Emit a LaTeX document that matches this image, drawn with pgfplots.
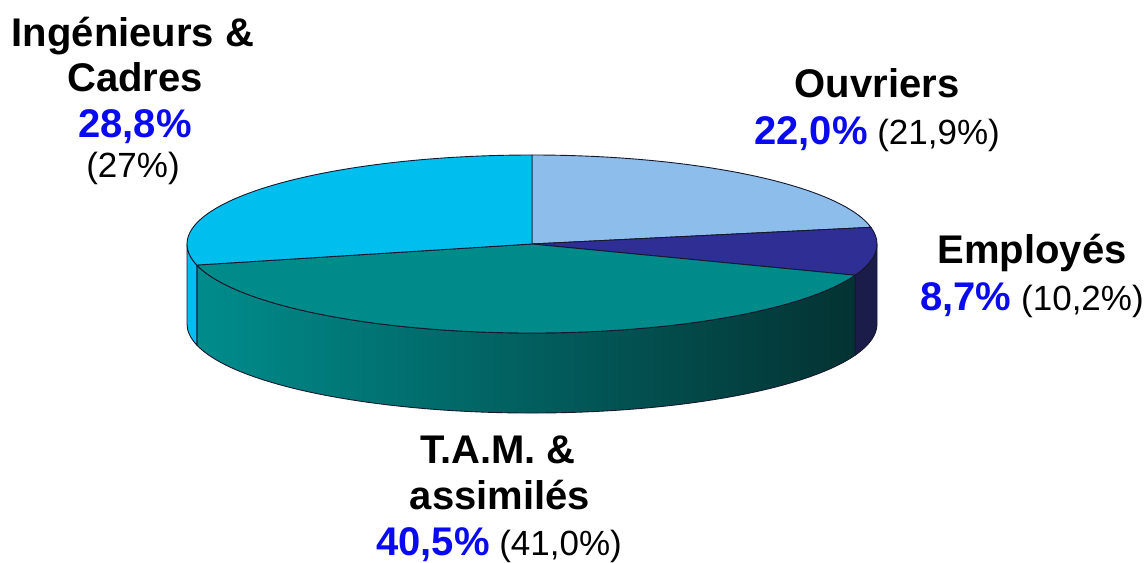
\documentclass[border=0pt]{standalone}
\usepackage{pgfplots}
\pgfplotsset{compat=1.18}
\usepackage{fontspec}
\setmainfont{Liberation Sans}
\definecolor{cOuv}{RGB}{141,189,235}
\definecolor{cEmp}{RGB}{46,46,148}
\definecolor{cEmpS}{RGB}{28,28,74}
\definecolor{cTam}{RGB}{0,139,139}
\definecolor{cTamL}{RGB}{0,140,140}
\definecolor{cTamR}{RGB}{4,50,50}
\definecolor{cIng}{RGB}{0,190,238}
\definecolor{cLine}{RGB}{20,25,45}
\definecolor{cPct}{RGB}{10,10,240}
% shares (%), clockwise from 12 o'clock
\def\vOuv{22.0}
\def\vEmp{8.7}
\def\vTam{40.5}
\def\vIng{28.8}
\pgfmathsetmacro\aA{90}
\pgfmathsetmacro\aB{\aA-3.6*\vOuv}
\pgfmathsetmacro\aC{\aB-3.6*\vEmp}
\pgfmathsetmacro\aD{\aC-3.6*\vTam}
\pgfmathsetmacro\aE{\aD-3.6*\vIng}
\def\cx{532}\def\cy{318}\def\rx{345}\def\ry{89}\def\dep{80}
\newcommand\lbig[1]{{\fontsize{40}{46}\selectfont\bfseries #1}}
\newcommand\lsm[1]{{\fontsize{35}{46}\selectfont #1}}
\begin{document}
\begin{tikzpicture}
\begin{axis}[width=1147pt,height=562pt,scale only axis,
  xmin=0,xmax=1147,ymin=0,ymax=562,hide axis,clip=false]
\path (axis cs:0,0) rectangle (axis cs:1147,562);
% side walls
\filldraw[fill=cEmpS,draw=cLine,line width=0.9pt]
  (axis cs:{\cx+\rx},\cy) arc[start angle=0,end angle=\aC,x radius=\rx pt,y radius=\ry pt]
  -- ++(0,-\dep pt) arc[start angle=\aC,end angle=0,x radius=\rx pt,y radius=\ry pt] -- cycle;
\shade[left color=cTamL,right color=cTamR]
  (axis cs:{\cx+\rx*cos(\aC)},{\cy+\ry*sin(\aC)}) arc[start angle=\aC,end angle=\aD,x radius=\rx pt,y radius=\ry pt]
  -- ++(0,-\dep pt) arc[start angle=\aD,end angle=\aC,x radius=\rx pt,y radius=\ry pt] -- cycle;
\draw[cLine,line width=0.9pt]
  (axis cs:{\cx+\rx*cos(\aC)},{\cy+\ry*sin(\aC)}) arc[start angle=\aC,end angle=\aD,x radius=\rx pt,y radius=\ry pt]
  -- ++(0,-\dep pt) arc[start angle=\aD,end angle=\aC,x radius=\rx pt,y radius=\ry pt] -- cycle;
\filldraw[fill=cIng,draw=cLine,line width=0.9pt]
  (axis cs:{\cx+\rx*cos(\aD)},{\cy+\ry*sin(\aD)}) arc[start angle=\aD,end angle=-180,x radius=\rx pt,y radius=\ry pt]
  -- ++(0,-\dep pt) arc[start angle=-180,end angle=\aD,x radius=\rx pt,y radius=\ry pt] -- cycle;
% top faces
\filldraw[fill=cOuv,draw=cLine,line width=0.9pt] (axis cs:\cx,\cy)
  -- (axis cs:{\cx+\rx*cos(\aA)},{\cy+\ry*sin(\aA)}) arc[start angle=\aA,end angle=\aB,x radius=\rx pt,y radius=\ry pt] -- cycle;
\filldraw[fill=cEmp,draw=cLine,line width=0.9pt] (axis cs:\cx,\cy)
  -- (axis cs:{\cx+\rx*cos(\aB)},{\cy+\ry*sin(\aB)}) arc[start angle=\aB,end angle=\aC,x radius=\rx pt,y radius=\ry pt] -- cycle;
\filldraw[fill=cTam,draw=cLine,line width=0.9pt] (axis cs:\cx,\cy)
  -- (axis cs:{\cx+\rx*cos(\aC)},{\cy+\ry*sin(\aC)}) arc[start angle=\aC,end angle=\aD,x radius=\rx pt,y radius=\ry pt] -- cycle;
\filldraw[fill=cIng,draw=cLine,line width=0.9pt] (axis cs:\cx,\cy)
  -- (axis cs:{\cx+\rx*cos(\aD)},{\cy+\ry*sin(\aD)}) arc[start angle=\aD,end angle=\aE,x radius=\rx pt,y radius=\ry pt] -- cycle;
% labels (baselines, y = 562 - pixel row)
\node[anchor=base,inner sep=0pt] at (axis cs:133,515) {\lbig{Ingénieurs \&}};
\node[anchor=base,inner sep=0pt] at (axis cs:135,470) {\lbig{Cadres}};
\node[anchor=base,inner sep=0pt] at (axis cs:135,424) {\lbig{\color{cPct}28,8\%}};
\node[anchor=base,inner sep=0pt] at (axis cs:133,384) {\lsm{(27\%)}};
\node[anchor=base,inner sep=0pt] at (axis cs:877,464) {\lbig{Ouvriers}};
\node[anchor=base,inner sep=0pt] at (axis cs:877,417) {\lbig{\color{cPct}22,0\%}\lsm{\ (21,9\%)}};
\node[anchor=base,inner sep=0pt] at (axis cs:1032,299) {\lbig{Employés}};
\node[anchor=base,inner sep=0pt] at (axis cs:1032,252) {\lbig{\color{cPct}8,7\%}\lsm{\ (10,2\%)}};
\node[anchor=base,inner sep=0pt] at (axis cs:498,99) {\lbig{T.A.M. \&}};
\node[anchor=base,inner sep=0pt] at (axis cs:500,53) {\lbig{assimilés}};
\node[anchor=base,inner sep=0pt] at (axis cs:499,7) {\lbig{\color{cPct}40,5\%}\lsm{\ (41,0\%)}};
\end{axis}
\end{tikzpicture}
\end{document}
